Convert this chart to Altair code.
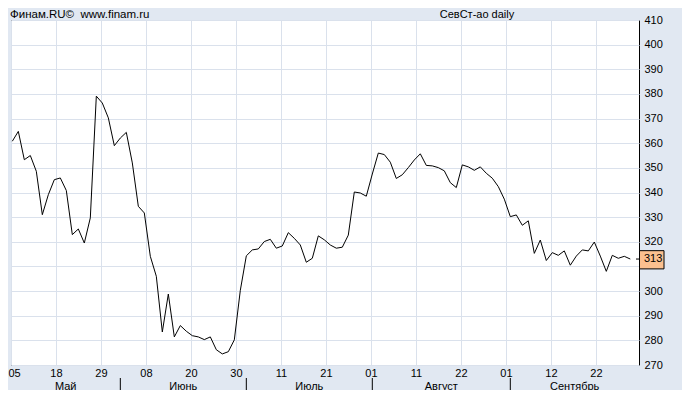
import altair as alt
import pandas as pd

# --- data ---
prices = [
    360.8, 364.8, 353.3, 355.0, 348.6, 331.0, 339.1, 345.2, 345.9, 340.8,
    322.9, 325.2, 319.5, 329.7, 379.1, 376.3, 370.3, 359.0, 362.1, 364.4,
    352.0, 334.4, 331.7, 314.1, 306.0, 283.4, 298.8, 281.4, 286.0, 283.7,
    281.9, 281.4, 280.3, 281.4, 276.2, 274.5, 275.4, 280.2, 300.3, 314.3,
    316.7, 317.1, 320.1, 321.0, 317.4, 318.3, 323.7, 321.4, 318.7, 311.7,
    313.3, 322.4, 320.8, 318.7, 317.4, 317.8, 322.7, 340.2, 339.8, 338.5,
    347.5, 356.0, 355.4, 352.3, 345.7, 347.2, 350.1, 353.2, 355.7, 351.0,
    350.8, 350.1, 348.8, 344.0, 342.0, 351.2, 350.4, 349.0, 350.4, 347.8,
    345.8, 342.4, 337.3, 330.2, 330.9, 326.7, 328.5, 315.3, 320.7, 312.4,
    315.6, 314.5, 316.3, 310.5, 314.2, 316.7, 316.3, 319.9, 314.2, 308.0,
    314.5, 313.3, 314.1, 313.0,
]
day_labels = ["05", "18", "29", "08", "20", "30", "11", "21", "01", "11", "22", "01", "12", "22"]
month_names = ["Май", "Июнь", "Июль", "Август", "Сентябрь"]
month_start_bar = [18, 39, 60, 83]
y_ticks = list(range(270, 411, 10))
last_price = 313
title_left = "Финам.RU©\u00a0\u00a0www.finam.ru"
title_center = "СевСт-ао daily"

# --- layout helpers ---
X0, X1 = -0.22, 104.45
STEP = 7.5
grid_pos = [X0 + STEP * k for k in range(len(day_labels))]
FONT = "Liberation Sans"

df = pd.DataFrame({"bar": list(range(len(prices))), "price": prices})

bounds = [X0] + month_start_bar + [X1]
mdf = pd.DataFrame({
    "month": month_names,
    "mid": [(bounds[i] + bounds[i + 1]) / 2 for i in range(len(month_names))],
})
sdf = pd.DataFrame({"start": month_start_bar})
ldf = pd.DataFrame({"price": [last_price], "label": [str(last_price)]})

label_arr = "[" + ",".join("'%s'" % s for s in day_labels) + "]"

xscale = alt.Scale(domain=[X0, X1], nice=False, zero=False)
yscale = alt.Scale(domain=[270, 410], nice=False, zero=False)

xaxis = alt.Axis(
    values=grid_pos, grid=True, gridColor="#DAE1EC", gridWidth=1,
    ticks=False, domain=False, labelPadding=2, labelFlush=True, labelFlushOffset=3,
    labelOverlap=False, labelFont=FONT, labelFontSize=11, labelColor="#000000",
    labelExpr=label_arr + "[round((datum.value - (%s)) / %s)]" % (X0, STEP),
    title=None,
)
yaxis = alt.Axis(
    orient="right", values=y_ticks, grid=True, gridColor="#DAE1EC", gridWidth=1,
    ticks=False, domain=False, labelPadding=5, labelFlush=False, labelAlign="left",
    labelOverlap=False, labelFont=FONT, labelFontSize=11, labelColor="#000000",
    labelExpr="datum.value == 310 ? '' : datum.label",
    title=None,
)


def X(field):
    return alt.X(field, scale=xscale, axis=xaxis)


def Y(field):
    return alt.Y(field, scale=yscale, axis=yaxis)


line = alt.Chart(df).mark_line(color="#000000", strokeWidth=1).encode(
    x=X("bar:Q"), y=Y("price:Q"),
)

box = alt.Chart(ldf).mark_rect(fill="#FBC08F", stroke="#000000", strokeWidth=1).encode(
    x=alt.value(628.5), x2=alt.value(653),
    y=Y("y1:Q"), y2="y2:Q",
).transform_calculate(y1="datum.price + 3.4", y2="datum.price - 4.0")

box_text = alt.Chart(ldf).mark_text(
    align="left", baseline="middle", font=FONT, fontSize=11, color="#000000"
).encode(x=alt.value(633), y=Y("price:Q"), text="label:N")

tick = alt.Chart(ldf).mark_rule(color="#000000", strokeWidth=1).encode(
    x=alt.value(625), x2=alt.value(629), y=Y("price:Q")
)

months = alt.Chart(mdf).mark_text(
    align="center", baseline="middle", font=FONT, fontSize=11, color="#000000"
).encode(x=X("mid:Q"), y=alt.value(366.5), text="month:N")

seps = alt.Chart(sdf).mark_rule(color="#000000", strokeWidth=1).encode(
    x=X("start:Q"), y=alt.value(358), y2=alt.value(371)
)

t_left = alt.Chart(pd.DataFrame({"t": [title_left]})).mark_text(
    align="left", baseline="middle", font=FONT, fontSize=11.5, color="#000000"
).encode(x=alt.value(-1), y=alt.value(-5.5), text="t:N")

t_center = alt.Chart(pd.DataFrame({"t": [title_center]})).mark_text(
    align="center", baseline="middle", font=FONT, fontSize=11, color="#000000"
).encode(x=alt.value(466), y=alt.value(-5.5), text="t:N")

chart = alt.layer(line, box, box_text, tick, months, seps, t_left, t_center).properties(
    width=628, height=345,
    padding={"left": 3, "top": 12, "right": 43, "bottom": 25},
    autosize=alt.AutoSizeParams(type="none"),
    background="#E1E8F2",
).configure_view(
    fill="#FFFFFF", stroke="#000000", strokeWidth=1
)

chart.save("out.html", embed_options={"renderer": "svg", "actions": False})
